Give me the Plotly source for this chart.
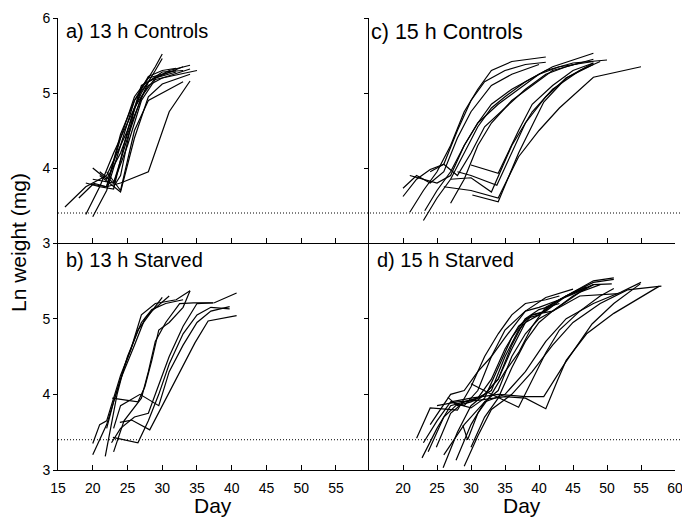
import plotly.graph_objects as go

# ---------------- data (day, ln weight) ----------------
# a) 13 h Controls
A_DAYS = [
    [16, 19, 22, 25, 27, 29, 30],
    [19, 21, 23, 25, 27, 29, 30],
    [20, 22, 24, 26, 28, 31, 34],
    [18, 20, 22, 24, 26, 28, 32],
    [19, 21, 23, 25, 27, 29, 33],
    [20, 22, 24, 26, 28, 30, 33],
    [20, 23, 25, 27, 29, 31, 35],
    [21, 23, 24, 26, 28, 30, 34],
    [22, 24, 26, 28, 31, 33],
    [20, 22, 24, 26, 28, 31, 34],
    [22, 24, 26, 28, 30, 32],
    [21, 23, 25, 27, 29, 32],
    [23, 24, 26, 28, 30, 34],
]
A_LNW = [
    [3.48, 3.75, 3.90, 4.50, 5.05, 5.35, 5.52],
    [3.38, 3.75, 4.20, 4.60, 5.00, 5.30, 5.46],
    [3.35, 3.70, 4.30, 4.90, 5.15, 5.30, 5.37],
    [3.60, 3.78, 3.75, 4.40, 4.95, 5.20, 5.30],
    [3.80, 3.75, 3.72, 4.50, 5.10, 5.20, 5.35],
    [4.00, 3.85, 4.20, 4.70, 5.15, 5.28, 5.30],
    [3.85, 3.80, 4.30, 4.90, 5.18, 5.22, 5.30],
    [3.90, 3.75, 3.68, 4.40, 4.95, 5.12, 5.25],
    [3.95, 3.70, 4.50, 4.90, 5.05, 5.15],
    [3.80, 3.75, 3.80, 3.88, 3.95, 4.75, 5.16],
    [3.75, 4.45, 4.90, 5.22, 5.30, 5.33],
    [3.95, 3.80, 4.40, 4.95, 5.20, 5.28],
    [3.75, 3.90, 4.80, 5.10, 5.20, 5.32],
]

# b) 13 h Starved
B_DAYS = [
    [20, 21, 22, 23, 24, 25.5, 27, 29, 32, 34],
    [20, 22, 23, 24, 26, 27.5, 28.5, 31],
    [22, 23, 25, 27, 28.5, 30.5, 33],
    [21.8, 22.5, 23.5, 24.5, 26.5, 28.5, 30],
    [22.7, 24, 26, 28, 29, 31, 33, 35, 37.5, 40.7],
    [22.9, 26.5, 28, 29.5, 31, 33, 35, 37, 39.7],
    [23.9, 25.6, 28.2, 30, 32.5, 34.7, 36.6, 40.7],
    [23, 24, 26.8, 29.5, 31, 33, 35, 37, 39.7],
    [22.8, 26.5, 27.5, 28.5, 29.5, 31, 33, 34],
    [23, 24.5, 27, 28, 29, 30.5, 32.5, 34.5, 37.3],
]
B_LNW = [
    [3.35, 3.60, 3.65, 3.95, 4.25, 4.60, 5.05, 5.20, 5.25, 5.37],
    [3.20, 3.60, 3.90, 4.20, 4.65, 5.00, 5.10, 5.30],
    [3.55, 3.90, 4.50, 4.95, 5.12, 5.20, 5.25],
    [3.18, 3.50, 4.00, 4.35, 4.85, 5.10, 5.28],
    [3.36, 3.55, 3.70, 3.75, 4.00, 4.50, 4.90, 5.20, 5.21, 5.34],
    [3.43, 3.36, 3.65, 4.00, 4.40, 4.80, 5.05, 5.15, 5.13],
    [3.63, 3.66, 3.53, 3.85, 4.28, 4.68, 4.97, 5.04],
    [3.55, 3.85, 4.00, 3.85, 4.30, 4.65, 4.95, 5.10, 5.16],
    [3.95, 3.90, 4.10, 4.45, 4.85, 4.95, 5.15, 5.37],
    [3.24, 3.65, 3.95, 4.30, 4.70, 4.95, 5.20, 5.21, 5.21],
]

# c) 15 h Controls
C_DAYS = [
    [21, 23, 25, 27, 29, 31, 33, 36, 41],
    [20, 22, 24, 26, 28, 30, 32, 35, 38, 41],
    [20, 22, 24, 26, 28, 30, 33, 36, 40],
    [21, 23, 25, 27, 29, 31, 33, 36, 39, 42, 48],
    [23, 25, 27, 29, 31, 33, 35, 38, 41, 45, 50],
    [23.2, 25, 27, 29, 31, 34, 37, 40, 43, 48],
    [24, 26, 28, 30, 32, 35, 38, 41, 44, 48],
    [27, 29, 31, 33, 36, 39, 42, 46],
    [30, 34, 37, 39, 42, 45, 48],
    [28, 30, 33.8, 36, 38, 41, 44, 48],
    [27, 30, 33, 36, 39, 42, 46, 49],
    [30.2, 34, 37, 40.7, 44, 48],
    [26, 30, 34, 37, 40, 43, 48, 55],
]
C_LNW = [
    [3.41, 3.70, 3.95, 4.30, 4.75, 5.05, 5.30, 5.42, 5.48],
    [3.62, 3.85, 3.98, 4.05, 4.50, 4.90, 5.15, 5.30, 5.38, 5.41],
    [3.73, 3.90, 3.80, 3.95, 4.40, 4.75, 5.10, 5.25, 5.38],
    [3.90, 3.85, 3.80, 3.90, 4.30, 4.60, 4.85, 5.05, 5.20, 5.35, 5.53],
    [3.30, 3.60, 3.85, 4.20, 4.55, 4.80, 4.95, 5.15, 5.30, 5.40, 5.44],
    [3.43, 3.70, 3.95, 4.30, 4.60, 4.85, 5.05, 5.25, 5.35, 5.42],
    [3.95, 4.05, 3.90, 4.20, 4.55, 4.80, 5.05, 5.25, 5.35, 5.45],
    [3.53, 3.85, 4.30, 4.60, 4.90, 5.10, 5.30, 5.40],
    [4.04, 3.93, 4.50, 4.85, 5.10, 5.30, 5.40],
    [3.95, 3.90, 3.77, 4.20, 4.60, 4.95, 5.20, 5.38],
    [3.85, 3.87, 3.68, 4.30, 4.75, 5.05, 5.30, 5.42],
    [3.64, 3.55, 4.20, 4.88, 5.20, 5.40],
    [3.75, 3.70, 3.60, 4.15, 4.50, 4.80, 5.21, 5.35],
]

# d) 15 h Starved
D_DAYS = [
    [22, 24, 28, 30, 32, 34, 36, 38, 41, 43],
    [23, 25, 27, 29, 31, 33, 35, 38, 40, 43, 48, 51],
    [22.8, 25, 27, 29, 31, 33, 35, 37, 39, 41, 44, 48, 50.7],
    [23.7, 26, 28, 30, 32, 34, 36, 38, 40, 42, 45, 48, 51],
    [24.9, 27, 29, 31, 33, 35, 37, 39, 42, 46, 49],
    [25.9, 28, 30, 32, 34, 36, 38, 40, 43, 47],
    [27.8, 30, 32, 34, 36, 38, 40, 43, 46, 51.7],
    [30, 32, 34, 36, 38, 40, 42, 45, 48],
    [28.8, 29.5, 31, 33, 35, 37, 39, 41, 44, 47],
    [26.6, 28, 30, 32, 34, 36, 38, 40, 43],
    [30, 33, 37, 39, 41, 43, 46, 49, 51],
    [25, 28, 31, 35, 38, 41, 42.7, 44, 47, 51, 57.7],
    [27, 30, 34, 38, 40.7, 43.8, 47.8, 51, 54.9],
    [24, 27, 29, 31, 33, 35, 38, 41, 45],
    [26, 29, 32, 35, 38, 41, 44, 48, 52, 55],
    [29, 31, 33, 36, 39, 42, 45, 49, 53, 58],
]
D_LNW = [
    [3.42, 3.82, 3.79, 4.10, 4.50, 4.80, 5.05, 5.20, 5.25, 5.30],
    [3.36, 3.65, 3.90, 3.85, 4.05, 4.50, 4.85, 5.10, 5.15, 5.25, 5.50, 5.54],
    [3.16, 3.55, 3.85, 3.90, 3.95, 4.20, 4.60, 4.90, 5.05, 5.10, 5.30, 5.45, 5.46],
    [3.24, 3.70, 3.87, 3.82, 3.95, 4.35, 4.75, 5.00, 5.05, 5.20, 5.35, 5.48, 5.52],
    [3.30, 3.75, 3.90, 3.95, 4.05, 4.50, 4.85, 5.05, 5.10, 5.35, 5.45],
    [3.03, 3.50, 3.85, 4.00, 4.20, 4.60, 4.95, 5.05, 5.25, 5.40],
    [3.13, 3.60, 3.90, 4.05, 4.50, 4.80, 5.00, 5.15, 5.30, 5.33],
    [3.30, 3.70, 3.95, 4.35, 4.70, 4.95, 5.10, 5.30, 5.45],
    [3.59, 3.40, 3.75, 4.00, 4.30, 4.55, 4.90, 5.15, 5.30, 5.42],
    [3.96, 3.85, 3.90, 4.00, 4.20, 4.65, 5.00, 5.12, 5.20],
    [4.14, 4.00, 3.83, 4.20, 4.55, 4.85, 5.10, 5.30, 5.40],
    [3.85, 3.90, 3.92, 3.97, 3.95, 3.81, 4.18, 4.45, 4.80, 5.07, 5.43],
    [3.90, 3.95, 4.00, 3.97, 3.97, 4.41, 4.93, 5.20, 5.46],
    [3.60, 4.00, 4.05, 4.30, 4.50, 4.75, 5.10, 5.28, 5.39],
    [3.20, 3.60, 3.90, 4.00, 4.30, 4.70, 5.00, 5.20, 5.35, 5.48],
    [3.05, 3.45, 3.80, 4.00, 4.30, 4.65, 4.95, 5.20, 5.38, 5.43],
]

PANEL_TITLES = ["a) 13 h Controls", "b) 13 h Starved", "c) 15 h Controls", "d) 15 h Starved"]
LEFT_TICKS = [15, 20, 25, 30, 35, 40, 45, 50, 55]
RIGHT_TICKS = [20, 25, 30, 35, 40, 45, 50, 55, 60]
THRESHOLD = 3.4

# ---------------- figure ----------------
OFF = 8  # the page body adds an 8 px margin before the figure
W, H = 690 - OFF, 517 - OFF
FONT = "Liberation Sans, Arial, sans-serif"

def px_x(p):
    return (p - OFF) / W

def px_y(p):
    return 1 - (p - OFF) / H

fig = go.Figure()

panels = [
    (A_DAYS, A_LNW, "x", "y"),
    (B_DAYS, B_LNW, "x2", "y2"),
    (C_DAYS, C_LNW, "x3", "y3"),
    (D_DAYS, D_LNW, "x4", "y4"),
]
for days, lnw, xa, ya in panels:
    for d, w in zip(days, lnw):
        fig.add_trace(go.Scatter(
            x=d, y=w, mode="lines", xaxis=xa, yaxis=ya,
            line=dict(color="black", width=1.2), showlegend=False,
            hoverinfo="skip"))

left_dom = [px_x(58), px_x(369)]
right_dom = [px_x(369), px_x(675)]
top_dom = [px_y(243), px_y(18)]
bot_dom = [px_y(470), px_y(243)]

common_x = dict(showgrid=False, zeroline=False, showline=True, linecolor="black",
                linewidth=1, ticks="inside", ticklen=5, tickcolor="black",
                automargin=False, ticklabeloverflow="allow",
                tickfont=dict(family=FONT, size=14, color="black"))
common_y = dict(showgrid=False, zeroline=False, showline=True, linecolor="black",
                linewidth=1, ticks="outside", ticklen=4, tickcolor="black",
                automargin=False, ticklabeloverflow="allow",
                range=[3, 6], tickfont=dict(family=FONT, size=14, color="black"))

fig.update_layout(
    template="none",
    width=W, height=H, margin=dict(l=0, r=0, t=0, b=0, autoexpand=False),
    paper_bgcolor="white", plot_bgcolor="white",
    xaxis=dict(domain=left_dom, range=[15, 59.75], anchor="y",
               tickvals=LEFT_TICKS, showticklabels=False, **common_x),
    yaxis=dict(domain=top_dom, anchor="x", tickvals=[3, 4, 5, 6], **common_y),
    xaxis2=dict(domain=left_dom, range=[15, 59.75], anchor="y2",
                tickvals=LEFT_TICKS, ticklabelstandoff=5, **common_x),
    yaxis2=dict(domain=bot_dom, anchor="x2", tickvals=[3, 4, 5], **common_y),
    xaxis3=dict(domain=right_dom, range=[15, 60.0], anchor="y3",
                tickvals=RIGHT_TICKS, showticklabels=False, **common_x),
    yaxis3=dict(domain=top_dom, anchor="x3", tickvals=[4, 5, 6],
                showticklabels=False, **common_y),
    xaxis4=dict(domain=right_dom, range=[15, 60.0], anchor="y4",
                tickvals=RIGHT_TICKS, ticklabelstandoff=5, **common_x),
    yaxis4=dict(domain=bot_dom, anchor="x4", tickvals=[4, 5],
                showticklabels=False, **common_y),
)

# dotted threshold lines across both columns
for yref in ["y", "y2"]:
    fig.add_shape(type="line", xref="paper", yref=yref,
                  x0=px_x(58), x1=px_x(682), y0=THRESHOLD, y1=THRESHOLD,
                  line=dict(color="black", width=1, dash="1px,2px"))

# panel labels
label_pos = [(64, 31, 20), (64, 260, 20), (369, 32, 21.5), (375, 260, 20)]
for text, (lx, ly, fs) in zip(PANEL_TITLES, label_pos):
    fig.add_annotation(text=text, xref="paper", yref="paper",
                       x=px_x(lx), y=px_y(ly), xanchor="left", yanchor="middle",
                       showarrow=False,
                       font=dict(family=FONT, size=fs, color="black"))

# axis titles
fig.add_annotation(text="Ln weight (mg)", xref="paper", yref="paper",
                   x=px_x(18), y=px_y(243), textangle=-90, showarrow=False,
                   xanchor="center", yanchor="middle",
                   font=dict(family=FONT, size=21, color="black"))
for cx in [213, 522]:
    fig.add_annotation(text="Day", xref="paper", yref="paper",
                       x=px_x(cx), y=px_y(505), showarrow=False,
                       xanchor="center", yanchor="middle",
                       font=dict(family=FONT, size=21, color="black"))

fig.write_html("out.html")
